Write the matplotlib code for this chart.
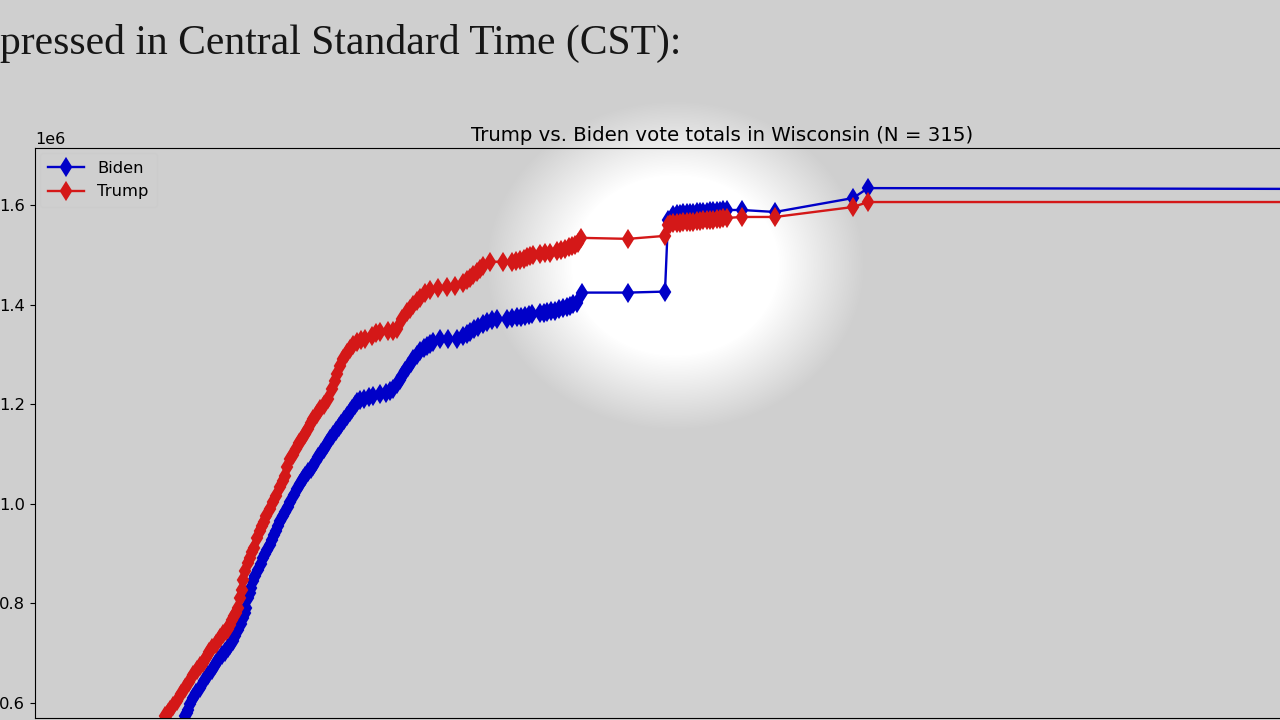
import numpy as np
import matplotlib.pyplot as plt

# (hours, cumulative votes in thousands)
trump_pts = [
    (1.30, 574), (1.33, 580), (1.35, 586), (1.38, 594), (1.42, 604), (1.46, 618), (1.50, 630),
    (1.54, 642), (1.58, 656), (1.62, 666), (1.65, 674), (1.68, 680), (1.71, 690), (1.74, 702),
    (1.77, 710), (1.81, 718), (1.85, 730), (1.88, 738), (1.91, 744), (1.93, 748), (1.95, 756),
    (1.97, 766), (1.99, 774), (2.01, 780), (2.03, 790), (2.05, 810), (2.07, 826), (2.08, 846),
    (2.10, 864), (2.13, 880), (2.15, 890), (2.17, 902), (2.19, 910), (2.22, 930), (2.25, 944),
    (2.27, 954), (2.29, 962), (2.31, 974), (2.35, 990), (2.38, 1004), (2.41, 1016), (2.45, 1034),
    (2.48, 1046), (2.50, 1056), (2.52, 1074), (2.55, 1090), (2.58, 1098), (2.61, 1110),
    (2.64, 1122), (2.67, 1130), (2.70, 1140), (2.73, 1150), (2.76, 1162), (2.78, 1170),
    (2.82, 1180), (2.85, 1190), (2.89, 1198), (2.93, 1210), (2.97, 1230), (3.00, 1246),
    (3.02, 1260), (3.05, 1276), (3.08, 1290), (3.12, 1302), (3.15, 1310), (3.18, 1318),
    (3.22, 1324), (3.26, 1328), (3.30, 1330), (3.37, 1336), (3.41, 1342), (3.45, 1344),
    (3.53, 1346), (3.58, 1346), (3.62, 1350), (3.67, 1370), (3.72, 1384), (3.75, 1392),
    (3.78, 1400), (3.82, 1408), (3.85, 1414), (3.90, 1424), (3.95, 1430), (4.03, 1434),
    (4.12, 1436), (4.20, 1438), (4.28, 1444), (4.32, 1450), (4.35, 1454), (4.38, 1460),
    (4.42, 1466), (4.45, 1472), (4.48, 1478), (4.55, 1486), (4.68, 1486), (4.77, 1486),
    (4.81, 1488), (4.85, 1490), (4.89, 1492), (4.92, 1496), (4.95, 1498), (4.98, 1500),
    (5.05, 1502), (5.10, 1503), (5.15, 1504), (5.22, 1508), (5.26, 1510), (5.30, 1512),
    (5.34, 1515), (5.37, 1518), (5.40, 1520), (5.43, 1524), (5.46, 1534), (5.93, 1532),
    (6.30, 1538), (6.33, 1560), (6.35, 1562), (6.38, 1564), (6.42, 1564), (6.45, 1564),
    (6.48, 1565), (6.52, 1566), (6.55, 1566), (6.58, 1566), (6.62, 1567), (6.65, 1568),
    (6.68, 1569), (6.72, 1570), (6.75, 1570), (6.78, 1570), (6.82, 1571), (6.85, 1572),
    (6.88, 1573), (6.92, 1574), (7.07, 1576), (7.40, 1576), (8.18, 1596), (8.33, 1606),
    (13.65, 1606),
]

biden_pts = [
    (1.50, 574), (1.515, 580), (1.53, 586), (1.55, 598), (1.58, 610), (1.61, 620), (1.65, 630),
    (1.69, 644), (1.73, 656), (1.77, 666), (1.80, 676), (1.83, 686), (1.87, 696), (1.90, 702),
    (1.93, 710), (1.95, 716), (1.98, 724), (2.00, 734), (2.03, 746), (2.06, 758), (2.08, 770),
    (2.10, 780), (2.11, 790), (2.13, 810), (2.15, 820), (2.16, 830), (2.18, 844), (2.20, 854),
    (2.23, 866), (2.26, 878), (2.28, 890), (2.30, 898), (2.32, 906), (2.35, 916), (2.37, 926),
    (2.39, 936), (2.41, 944), (2.43, 954), (2.45, 964), (2.48, 974), (2.50, 984), (2.53, 994),
    (2.55, 1004), (2.59, 1018), (2.62, 1030), (2.65, 1040), (2.68, 1050), (2.70, 1056),
    (2.73, 1064), (2.76, 1070), (2.78, 1076), (2.81, 1086), (2.83, 1094), (2.86, 1102),
    (2.89, 1110), (2.92, 1120), (2.95, 1130), (2.98, 1138), (3.01, 1146), (3.04, 1154),
    (3.06, 1160), (3.09, 1168), (3.12, 1176), (3.15, 1184), (3.17, 1190), (3.20, 1198),
    (3.22, 1204), (3.25, 1208), (3.29, 1210), (3.34, 1214), (3.38, 1216), (3.45, 1220),
    (3.51, 1222), (3.55, 1226), (3.58, 1230), (3.62, 1240), (3.65, 1248), (3.67, 1256),
    (3.70, 1266), (3.73, 1274), (3.76, 1282), (3.78, 1290), (3.82, 1298), (3.85, 1306),
    (3.89, 1312), (3.92, 1316), (3.95, 1320), (3.98, 1324), (4.05, 1330), (4.13, 1330),
    (4.22, 1330), (4.28, 1336), (4.32, 1340), (4.35, 1344), (4.39, 1350), (4.43, 1354),
    (4.48, 1360), (4.52, 1364), (4.57, 1368), (4.62, 1370), (4.72, 1370), (4.77, 1372),
    (4.82, 1374), (4.86, 1375), (4.90, 1376), (4.94, 1378), (4.97, 1380), (5.05, 1382),
    (5.09, 1383), (5.12, 1384), (5.16, 1386), (5.20, 1388), (5.24, 1391), (5.28, 1394),
    (5.32, 1396), (5.35, 1398), (5.38, 1401), (5.42, 1404), (5.47, 1424), (5.93, 1424),
    (6.30, 1426), (6.33, 1570), (6.38, 1580), (6.42, 1581), (6.45, 1582), (6.48, 1583),
    (6.52, 1584), (6.55, 1584), (6.58, 1584), (6.62, 1585), (6.65, 1586), (6.68, 1586),
    (6.72, 1586), (6.75, 1587), (6.78, 1588), (6.82, 1588), (6.85, 1588), (6.88, 1589),
    (6.92, 1590), (7.07, 1590), (7.40, 1586), (8.18, 1614), (8.33, 1634), (13.65, 1632),
]

bg_col = '#cfcfcf'
fig = plt.figure(figsize=(12.8, 7.2), dpi=100, facecolor=bg_col)

# white glow behind the chart
bg = fig.add_axes([0, 0, 1, 1], zorder=0)
bg.axis('off')
yy, xx = np.mgrid[0:720, 0:1280]
r = np.hypot((xx - 675) / 1.15, yy - 265)
glow = np.ones((720, 1280, 4))
glow[..., 3] = np.clip((165 - r) / 75, 0, 1)
bg.imshow(glow, extent=[0, 1280, 720, 0], aspect='auto')
bg.set_xlim(0, 1280)
bg.set_ylim(720, 0)

fig.text(0.0, 0.925, 'pressed in Central Standard Time (CST):', fontsize=30,
         family='Liberation Serif', color='#161616')

ax = fig.add_axes([35 / 1280, 2 / 720, 1.1, 570 / 720], zorder=1)
ax.patch.set_alpha(0)
bt, bv = zip(*biden_pts)
tt, tv = zip(*trump_pts)
ax.plot(bt, np.array(bv) * 1000, color='#0000c8', marker='d',
        markersize=8, mew=1.6, lw=1.7, label='Biden')
ax.plot(tt, np.array(tv) * 1000, color='#d41818', marker='d',
        markersize=8, mew=1.6, lw=1.7, label='Trump')
ax.set_xlim(0, 14.08)
ax.set_ylim(569e3, 1714.6e3)
ax.set_yticks([0.6e6, 0.8e6, 1.0e6, 1.2e6, 1.4e6, 1.6e6])
ax.tick_params(axis='x', bottom=False, labelbottom=False)
ax.tick_params(axis='y', labelsize=11.8)
ax.yaxis.get_offset_text().set_fontsize(11.5)
ax.set_title('Trump vs. Biden vote totals in Wisconsin (N = 315)', fontsize=14.2,
             x=(722 - 35) / 1408, pad=5)
ax.legend(loc='upper left', fontsize=11.8, facecolor=bg_col, borderaxespad=0.3,
          handlelength=2.2, borderpad=0.5)

fig.savefig('out.png', dpi=100, facecolor=bg_col)
